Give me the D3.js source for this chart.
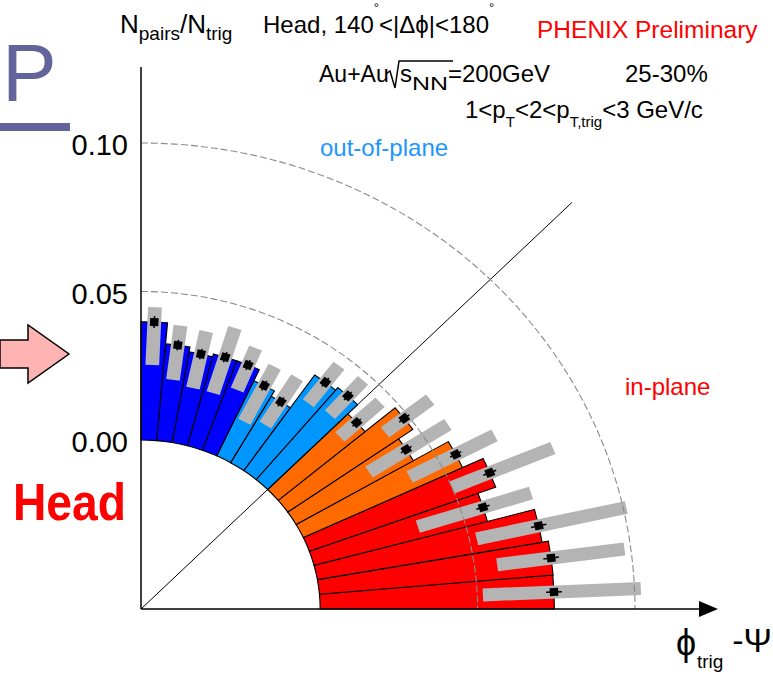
<!DOCTYPE html>
<html><head><meta charset="utf-8">
<script src="https://cdn.jsdelivr.net/npm/d3@7"></script>
<style>
body{margin:0;background:#fff}
svg{display:block}
text{font-family:"Liberation Sans",Arial,Helvetica,sans-serif}
</style>
</head><body>
<svg id="c" width="773" height="675"></svg>
<script>
// ---- data (bins of phi_trig - Psi, degrees) ----
const binLow  = [0,5,10,15,20,25,30,35,40,45,50,55,60,65,70,75,80,85];
const binHigh = [5,10,15,20,25,30,35,40,45,50,55,60,65,70,75,80,85,90];
const yields  = [0.0744,0.0745,0.0725,0.0570,0.0630,0.0558,0.0430,0.0485,0.0360,0.0404,0.0393,0.0258,0.0279,0.0320,0.0320,0.0310,0.0327,0.0398];
const sysLow  = [0.0518,0.0572,0.0523,0.0353,0.0500,0.0393,0.0290,0.0408,0.0288,0.0319,0.0304,0.0166,0.0142,0.0229,0.0193,0.0193,0.0209,0.0253];
const sysHigh = [0.1020,0.0980,0.1010,0.0730,0.0847,0.0697,0.0587,0.0589,0.0461,0.0475,0.0464,0.0354,0.0351,0.0382,0.0423,0.0388,0.0393,0.0448];
const statErr = [0.0025,0.0025,0.0025,0.0022,0.0022,0.0020,0.0020,0.0020,0.0018,0.0018,0.0018,0.0018,0.0018,0.0018,0.0018,0.0018,0.0018,0.0020];
const groups  = ["in","in","in","in","in","midin","midin","midin","midin","midout","midout","midout","midout","out","out","out","out","out"];
const groupNames  = ["in","midin","midout","out"];
const groupColors = ["#ff0000","#ff6a00","#0096ff","#0000ff"];
const yTicks = [0.00,0.05,0.10];
const yTickLabels = ["0.00","0.05","0.10"];
const guideCircles = [0.05,0.10];

const svg = d3.select("#c");
const cx = 141, cy = 609, sx = 1.06;
const r = d3.scaleLinear().domain([0,0.10]).range([169,466]);
const yAxisScale = d3.scaleLinear().domain([0,0.10]).range([cy - r(0), cy - r(0.10)]);
const color = d3.scaleOrdinal().domain(groupNames).range(groupColors);
const deg = Math.PI/180;

// ---- slide decorations ----
const deco = svg.append("g");
deco.append("text").attr("x",2).attr("y",101)
  .attr("font-size",82).attr("fill","#64649c").text("P");
deco.append("rect").attr("x",0).attr("y",123).attr("width",70).attr("height",8).attr("fill","#64649c");
deco.append("polygon")
  .attr("points","0,340 28,340 28,325 69,354 28,383 28,368 0,368")
  .attr("fill","#ffb4b4").attr("stroke","#000").attr("stroke-width",1.5);
deco.append("text").attr("x",13).attr("y",520).attr("font-size",52).attr("font-weight","bold")
  .attr("fill","#ff0000").attr("textLength",113).attr("lengthAdjust","spacingAndGlyphs").text("Head");

// ---- polar area ----
const P = svg.append("g").attr("transform",`translate(${cx},${cy}) scale(${sx},1)`);

// diagonal 45 deg line (under wedges)
P.append("line").attr("x1",0).attr("y1",0)
  .attr("x2",575*Math.cos(45*deg)).attr("y2",-575*Math.sin(45*deg))
  .attr("stroke","#000").attr("stroke-width",1).attr("vector-effect","non-scaling-stroke");

const arc = d3.arc();
const idx = d3.range(yields.length);

// wedges
P.selectAll("path.wedge").data(idx).join("path").attr("class","wedge")
  .attr("d", i => arc({innerRadius:r(0), outerRadius:r(yields[i]),
      startAngle:(90-binHigh[i])*deg, endAngle:(90-binLow[i])*deg}))
  .attr("fill", i => color(groups[i]))
  .attr("stroke","#000").attr("stroke-width",1.1).attr("vector-effect","non-scaling-stroke");

// systematic boxes
P.selectAll("rect.sys").data(idx).join("rect").attr("class","sys")
  .attr("transform", i => `rotate(${-(binLow[i]+binHigh[i])/2})`)
  .attr("x", i => r(sysLow[i])).attr("width", i => r(sysHigh[i]) - r(sysLow[i]))
  .attr("y",-6.5).attr("height",13)
  .attr("fill","#b4b4b4");

// dashed guide circles
P.selectAll("path.guide").data(guideCircles).join("path").attr("class","guide")
  .attr("d", v => { const p = d3.path(); p.arc(0,0,r(v),-Math.PI/2,0,false); return p.toString(); })
  .attr("fill","none").attr("stroke","#8a8a8a").attr("stroke-width",1.1)
  .attr("stroke-dasharray","7,3").attr("vector-effect","non-scaling-stroke");

// points with stat errors
const pts = P.selectAll("g.pt").data(idx).join("g").attr("class","pt")
  .attr("transform", i => `rotate(${-(binLow[i]+binHigh[i])/2})`);
pts.append("line")
  .attr("x1", i => r(yields[i]-statErr[i])).attr("x2", i => r(yields[i]+statErr[i]))
  .attr("y1",0).attr("y2",0).attr("stroke","#000").attr("stroke-width",1.5).attr("vector-effect","non-scaling-stroke");
pts.append("rect")
  .attr("x", i => r(yields[i]) - 4).attr("y",-4).attr("width",8).attr("height",8).attr("fill","#000");

// ---- axes ----
svg.append("line").attr("x1",cx).attr("y1",cy).attr("x2",cx).attr("y2",67)
  .attr("stroke","#000").attr("stroke-width",1.5);
svg.append("line").attr("x1",cx).attr("y1",cy).attr("x2",700).attr("y2",cy)
  .attr("stroke","#000").attr("stroke-width",1.5);
svg.append("polygon").attr("points",`699,601 718,${cy} 699,617`).attr("fill","#000");

const yAxis = svg.append("g").attr("transform",`translate(${cx},0)`)
  .call(d3.axisLeft(yAxisScale).tickValues(yTicks).tickSize(0).tickPadding(13)
        .tickFormat((d,i) => yTickLabels[i]));
yAxis.select(".domain").remove();
yAxis.selectAll("text").attr("font-size",29).attr("dy","0.4em")
  .attr("font-family","Liberation Sans, Arial, sans-serif").attr("fill","#000");

// ---- texts (flowing tspans) ----
function rich(x, y, size, parts, fill){
  const t = svg.append("text").attr("x",x).attr("y",y).attr("font-size",size).attr("fill",fill || "#000");
  parts.forEach(p => {
    const s = t.append("tspan").text(p.t);
    if (p.size) s.attr("font-size",p.size);
    if (p.dy) s.attr("dy",p.dy);
    if (p.len) s.attr("textLength",p.len).attr("lengthAdjust","spacingAndGlyphs");
  });
  return t;
}
rich(120,33,26,[{t:"N"},{t:"pairs",size:19,dy:7},{t:"/N",dy:-7},{t:"trig",size:19,dy:7}]);
rich(263,33,24,[{t:"Head, 140"},{t:"°",size:13,dy:-21},{t:"<|Δϕ|<180",dy:21},{t:"°",size:13,dy:-21}]);
rich(537,38,24.5,[{t:"PHENIX Preliminary"}],"#ff0000");

rich(319,82,23,[{t:"Au+Au"}]);
svg.append("path").attr("d","M386,74 L390,71 L395,88 L399,61 L453,61")
  .attr("fill","none").attr("stroke","#000").attr("stroke-width",1.5);
rich(400,82,24,[{t:"s"},{t:"NN",size:18,dy:8,len:36},{t:"=200GeV",dy:-8}]);
rich(625,82,24,[{t:"25-30%"}]);

rich(465,118,24,[{t:"1<p"},{t:"T",size:15,dy:9},{t:"<2<p",dy:-9},{t:"T,trig",size:15,dy:9},{t:"<3 GeV/c",dy:-9}]);

rich(320,156,24,[{t:"out-of-plane"}],"#1e96ff");
rich(625,395,24,[{t:"in-plane"}],"#ff0000");

svg.append("text").attr("x",676).attr("y",655).attr("font-size",36)
  .attr("font-family","Liberation Serif, DejaVu Serif, serif").text("ϕ");
rich(697,668,19,[{t:"trig"}]);
svg.append("text").attr("x",772).attr("y",652).attr("font-size",34).attr("text-anchor","end")
  .attr("font-family","Liberation Serif, DejaVu Serif, serif").text("-Ψ");
</script>
</body></html>
